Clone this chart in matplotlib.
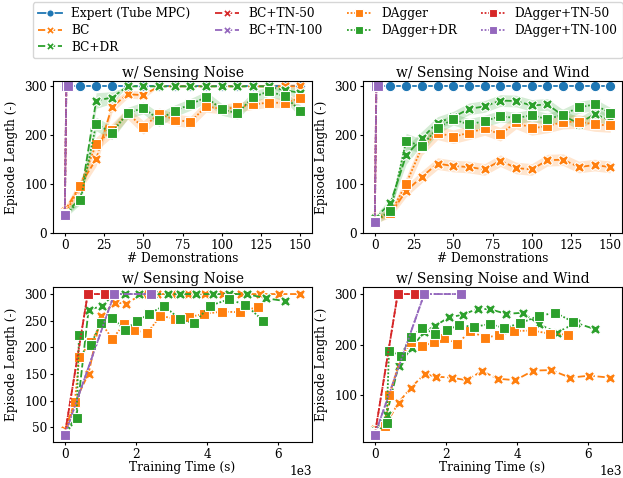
import matplotlib
matplotlib.use("Agg")
import matplotlib.pyplot as plt
import numpy as np

plt.rcParams["font.family"] = "DejaVu Serif"
plt.rcParams["font.size"] = 8.7
plt.rcParams["xtick.major.size"] = 2.5
plt.rcParams["ytick.major.size"] = 2.5
plt.rcParams["xtick.major.pad"] = 2.0
plt.rcParams["ytick.major.pad"] = 1.8

# number of demonstrations (x for top row)
demos = [0, 10, 20, 30, 40, 50, 60, 70, 80, 90, 100, 110, 120, 130, 140, 150]
demos_tn = [0, 1, 2]

# training time in seconds per method (x for bottom row)
time_bc = [0, 290, 670, 1010, 1400, 1735, 2170, 2580, 3015, 3455, 3950, 4460, 4960, 5495, 6035, 6620]
time_bc_dr = [0, 330, 670, 1040, 1390, 1700, 2075, 2470, 2890, 3240, 3690, 4160, 4630, 5120, 5660, 6180]
time_dagger = [0, 280, 410, 730, 1030, 1340, 1670, 1960, 2320, 2690, 3090, 3500, 3925, 4410, 4915, 5435]
time_dagger_dr = [0, 330, 400, 730, 1010, 1340, 1690, 2035, 2375, 2785, 3235, 3630, 4080, 4605, 5080, 5580]
time_tn50 = [0, 645, 1145]
time_tn100 = [0, 1390, 2430]

# episode length, sensing noise
noise_expert = [300] * 16
noise_bc = [45, 99, 151, 258, 284, 282, 300, 300, 300, 300, 300, 300, 300, 300, 300, 300]
noise_bc_dr = [40, 70, 271, 277, 300, 300, 300, 300, 300, 300, 300, 300, 300, 300, 292, 287]
noise_dagger = [38, 97, 182, 210, 245, 216, 244, 232, 227, 259, 254, 257, 263, 267, 266, 276]
noise_dagger_dr = [36, 67, 223, 205, 245, 256, 232, 250, 263, 278, 253, 245, 278, 290, 280, 250]
noise_tn = [36, 300, 300]

# episode length, sensing noise and wind
wind_expert = [300] * 16
wind_bc = [33, 40, 86, 115, 142, 137, 135, 130, 148, 133, 130, 149, 150, 135, 139, 135]
wind_bc_dr = [30, 61, 159, 194, 226, 237, 254, 259, 271, 270, 261, 263, 240, 224, 243, 231]
wind_dagger = [25, 40, 101, 175, 205, 197, 205, 214, 202, 227, 214, 219, 227, 228, 222, 220]
wind_dagger_dr = [24, 45, 188, 178, 215, 233, 222, 229, 239, 235, 241, 233, 242, 257, 263, 245]
wind_tn = [22, 300, 300]

# half width of the shaded confidence bands (top row)
noise_bc_ci = [8, 12, 14, 12, 8, 8, 0, 0, 0, 0, 0, 0, 0, 4, 6, 6]
noise_bc_dr_ci = [6, 8, 16, 12, 0, 0, 0, 0, 0, 0, 0, 0, 0, 0, 8, 10]
noise_dagger_ci = [8, 12, 14, 14, 12, 14, 12, 12, 12, 12, 10, 10, 10, 10, 10, 10]
noise_dagger_dr_ci = [6, 8, 14, 14, 12, 12, 14, 12, 12, 12, 12, 12, 12, 10, 10, 12]
wind_bc_ci = [6, 8, 12, 12, 12, 12, 12, 12, 12, 12, 12, 12, 12, 12, 12, 12]
wind_bc_dr_ci = [6, 10, 18, 14, 12, 12, 12, 12, 12, 12, 12, 12, 12, 12, 12, 12]
wind_dagger_ci = [6, 8, 14, 16, 14, 14, 14, 14, 14, 14, 14, 14, 14, 14, 14, 14]
wind_dagger_dr_ci = [6, 10, 16, 14, 12, 12, 12, 12, 12, 12, 12, 12, 12, 12, 12, 12]

BLUE, ORANGE, GREEN, RED, PURPLE = "#1f77b4", "#ff7f0e", "#2ca02c", "#d62728", "#9467bd"
SOLID, DASHED, DOTTED = None, (4, 1.5), (1, 1)


def draw(ax, x, y, color, dashes, marker, label, ci=None):
    kw = dict(color=color, marker=marker, ms=7.5, mec="white", mew=0.8, lw=1.3, label=label)
    if dashes is not None:
        kw["dashes"] = dashes
    line, = ax.plot(x, y, **kw)
    if ci is not None:
        y = np.asarray(y, float)
        c = np.asarray(ci, float)
        ax.fill_between(x, y - c, y + c, color=color, alpha=0.2, lw=0)
    return line


W, H = 623, 478
fig = plt.figure(figsize=(W / 100, H / 100), dpi=100)


def px_axes(l, t, r, b):
    return fig.add_axes([l / W, 1 - b / H, (r - l) / W, (b - t) / H])


axes = np.array([[px_axes(53, 81, 312, 233), px_axes(363, 81, 622, 233)],
                 [px_axes(53, 287, 312, 442), px_axes(363, 287, 622, 442)]])

scenarios = [
    ("w/ Sensing Noise", noise_expert, noise_bc, noise_bc_dr, noise_dagger, noise_dagger_dr, noise_tn,
     noise_bc_ci, noise_bc_dr_ci, noise_dagger_ci, noise_dagger_dr_ci),
    ("w/ Sensing Noise and Wind", wind_expert, wind_bc, wind_bc_dr, wind_dagger, wind_dagger_dr, wind_tn,
     wind_bc_ci, wind_bc_dr_ci, wind_dagger_ci, wind_dagger_dr_ci),
]

for col, (title, expert, bc, bc_dr, dag, dag_dr, tn, bc_ci, bc_dr_ci, dag_ci, dag_dr_ci) in enumerate(scenarios):
    # top row: vs number of demonstrations
    ax = axes[0, col]
    draw(ax, demos, expert, BLUE, SOLID, "o", "Expert (Tube MPC)")
    draw(ax, demos, bc, ORANGE, DASHED, "X", "BC", bc_ci)
    draw(ax, demos, bc_dr, GREEN, DASHED, "X", "BC+DR", bc_dr_ci)
    draw(ax, demos_tn, tn, RED, DASHED, "X", "BC+TN-50")
    draw(ax, demos_tn, tn, PURPLE, DASHED, "X", "BC+TN-100")
    draw(ax, demos, dag, ORANGE, DOTTED, "s", "DAgger", dag_ci)
    draw(ax, demos, dag_dr, GREEN, DOTTED, "s", "DAgger+DR", dag_dr_ci)
    draw(ax, demos_tn, tn, RED, DOTTED, "s", "DAgger+TN-50")
    draw(ax, demos_tn, tn, PURPLE, DOTTED, "s", "DAgger+TN-100")
    ax.set_ylim(0, 311)
    ax.set_xticks([0, 25, 50, 75, 100, 125, 150])
    ax.set_yticks([0, 100, 200, 300])
    ax.set_title(title, fontsize=10, pad=3)
    ax.set_xlabel("# Demonstrations", labelpad=0)
    ax.set_ylabel("Episode Length (-)")

    # bottom row: vs training time
    ax = axes[1, col]
    draw(ax, time_bc, bc, ORANGE, DASHED, "X", "BC")
    draw(ax, time_bc_dr, bc_dr, GREEN, DASHED, "X", "BC+DR")
    draw(ax, time_tn50, tn, RED, DASHED, "X", "BC+TN-50")
    draw(ax, time_tn100, tn, PURPLE, DASHED, "X", "BC+TN-100")
    draw(ax, time_dagger, dag, ORANGE, DOTTED, "s", "DAgger")
    draw(ax, time_dagger_dr, dag_dr, GREEN, DOTTED, "s", "DAgger+DR")
    draw(ax, time_tn50, tn, RED, DOTTED, "s", "DAgger+TN-50")
    draw(ax, time_tn100, tn, PURPLE, DOTTED, "s", "DAgger+TN-100")
    ax.set_xticks([0, 2000, 4000, 6000])
    ax.ticklabel_format(style="sci", axis="x", scilimits=(0, 0))
    ax.set_title(title, fontsize=10, pad=3)
    ax.set_xlabel("Training Time (s)", labelpad=0)
    ax.set_ylabel("Episode Length (-)")

axes[1, 1].set_yticks([100, 200, 300])

handles, labels = axes[0, 0].get_legend_handles_labels()
fig.legend(handles, labels, loc="upper center", bbox_to_anchor=(0.526, 1.0), ncol=4,
           fontsize=8.7, markerscale=0.7, handlelength=2.0, columnspacing=2.0,
           labelspacing=0.3, borderpad=0.4, borderaxespad=0.2, edgecolor="#cccccc")

fig.savefig("out.png", dpi=100)
